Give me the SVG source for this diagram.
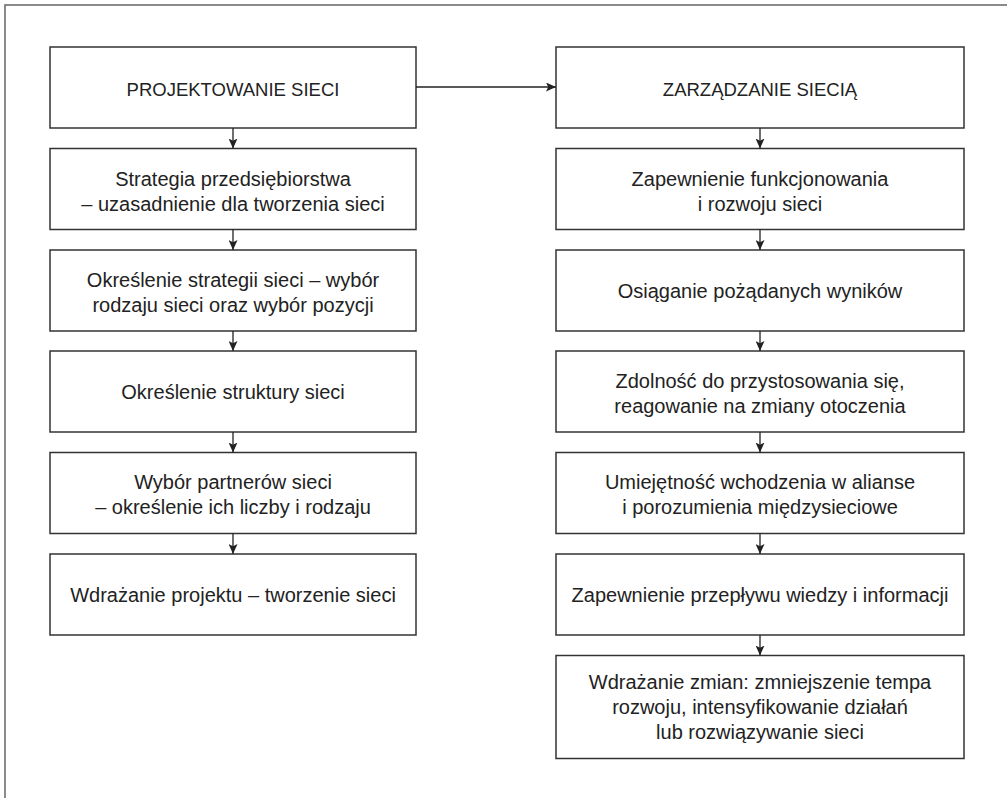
<svg xmlns="http://www.w3.org/2000/svg" width="1007" height="798" viewBox="0 0 1007 798">
  <style>
    .frame { fill: none; stroke: #6e6e6e; stroke-width: 1.6; }
    .box { fill: #ffffff; stroke: #333333; stroke-width: 1.5; }
    .lbl { font-family: "Liberation Sans", Arial, sans-serif; font-size: 20px; fill: #222222; text-anchor: middle; }
    .head { font-size: 18.5px; }
    .link { fill: none; stroke: #222222; stroke-width: 1.3; marker-end: url(#arrow); }
  </style>
  <defs>
    <marker id="arrow" viewBox="0 0 10 9" refX="10" refY="4.5" markerWidth="10" markerHeight="9" markerUnits="userSpaceOnUse" orient="auto">
      <path d="M0,0 L10,4.5 L0,9 L2.2,4.5 z" fill="#222222"/>
    </marker>
  </defs>

  <rect width="1007" height="798" fill="#ffffff"/>
  <!-- outer frame: only top and left edges fall inside the page -->
  <rect class="frame" x="5" y="5" width="1010" height="800"/>

  <!-- left column: network design -->
  <g id="projektowanie">
    <rect class="box" x="50" y="47" width="366" height="81"/>
    <text class="lbl head" x="233" y="96">PROJEKTOWANIE SIECI</text>
  </g>
  <g id="strategia">
    <rect class="box" x="50" y="148.5" width="366" height="81"/>
    <text class="lbl" x="233" y="186">Strategia przedsiębiorstwa</text>
    <text class="lbl" x="233" y="211">– uzasadnienie dla tworzenia sieci</text>
  </g>
  <g id="okreslenie-strategii">
    <rect class="box" x="50" y="250" width="366" height="81"/>
    <text class="lbl" x="233" y="287">Określenie strategii sieci – wybór</text>
    <text class="lbl" x="233" y="312">rodzaju sieci oraz wybór pozycji</text>
  </g>
  <g id="struktura">
    <rect class="box" x="50" y="351" width="366" height="81"/>
    <text class="lbl" x="233" y="399">Określenie struktury sieci</text>
  </g>
  <g id="partnerzy">
    <rect class="box" x="50" y="452.5" width="366" height="81"/>
    <text class="lbl" x="233" y="489">Wybór partnerów sieci</text>
    <text class="lbl" x="233" y="514">– określenie ich liczby i rodzaju</text>
  </g>
  <g id="wdrazanie-projektu">
    <rect class="box" x="50" y="554" width="366" height="81"/>
    <text class="lbl" x="233" y="602">Wdrażanie projektu – tworzenie sieci</text>
  </g>

  <!-- right column: network management -->
  <g id="zarzadzanie">
    <rect class="box" x="556" y="47" width="408" height="81"/>
    <text class="lbl head" x="760" y="96">ZARZĄDZANIE SIECIĄ</text>
  </g>
  <g id="funkcjonowanie">
    <rect class="box" x="556" y="148.5" width="408" height="81"/>
    <text class="lbl" x="760" y="186">Zapewnienie funkcjonowania</text>
    <text class="lbl" x="760" y="211">i rozwoju sieci</text>
  </g>
  <g id="wyniki">
    <rect class="box" x="556" y="250" width="408" height="81"/>
    <text class="lbl" x="760" y="298">Osiąganie pożądanych wyników</text>
  </g>
  <g id="przystosowanie">
    <rect class="box" x="556" y="351" width="408" height="81"/>
    <text class="lbl" x="760" y="388">Zdolność do przystosowania się,</text>
    <text class="lbl" x="760" y="413">reagowanie na zmiany otoczenia</text>
  </g>
  <g id="alianse">
    <rect class="box" x="556" y="452.5" width="408" height="81"/>
    <text class="lbl" x="760" y="489">Umiejętność wchodzenia w alianse</text>
    <text class="lbl" x="760" y="514">i porozumienia międzysieciowe</text>
  </g>
  <g id="przeplyw">
    <rect class="box" x="556" y="554" width="408" height="81"/>
    <text class="lbl" x="760" y="602">Zapewnienie przepływu wiedzy i informacji</text>
  </g>
  <g id="wdrazanie-zmian">
    <rect class="box" x="556" y="655.5" width="408" height="103"/>
    <text class="lbl" x="760" y="689">Wdrażanie zmian: zmniejszenie tempa</text>
    <text class="lbl" x="760" y="714">rozwoju, intensyfikowanie działań</text>
    <text class="lbl" x="760" y="739">lub rozwiązywanie sieci</text>
  </g>

  <!-- connectors -->
  <g id="connectors">
    <path class="link" d="M416,87 H556"/>
    <path class="link" d="M233,128 V148.5"/>
    <path class="link" d="M233,229.5 V250"/>
    <path class="link" d="M233,331 V351"/>
    <path class="link" d="M233,432 V452.5"/>
    <path class="link" d="M233,533.5 V554"/>
    <path class="link" d="M760,128 V148.5"/>
    <path class="link" d="M760,229.5 V250"/>
    <path class="link" d="M760,331 V351"/>
    <path class="link" d="M760,432 V452.5"/>
    <path class="link" d="M760,533.5 V554"/>
    <path class="link" d="M760,635 V655.5"/>
  </g>
</svg>
